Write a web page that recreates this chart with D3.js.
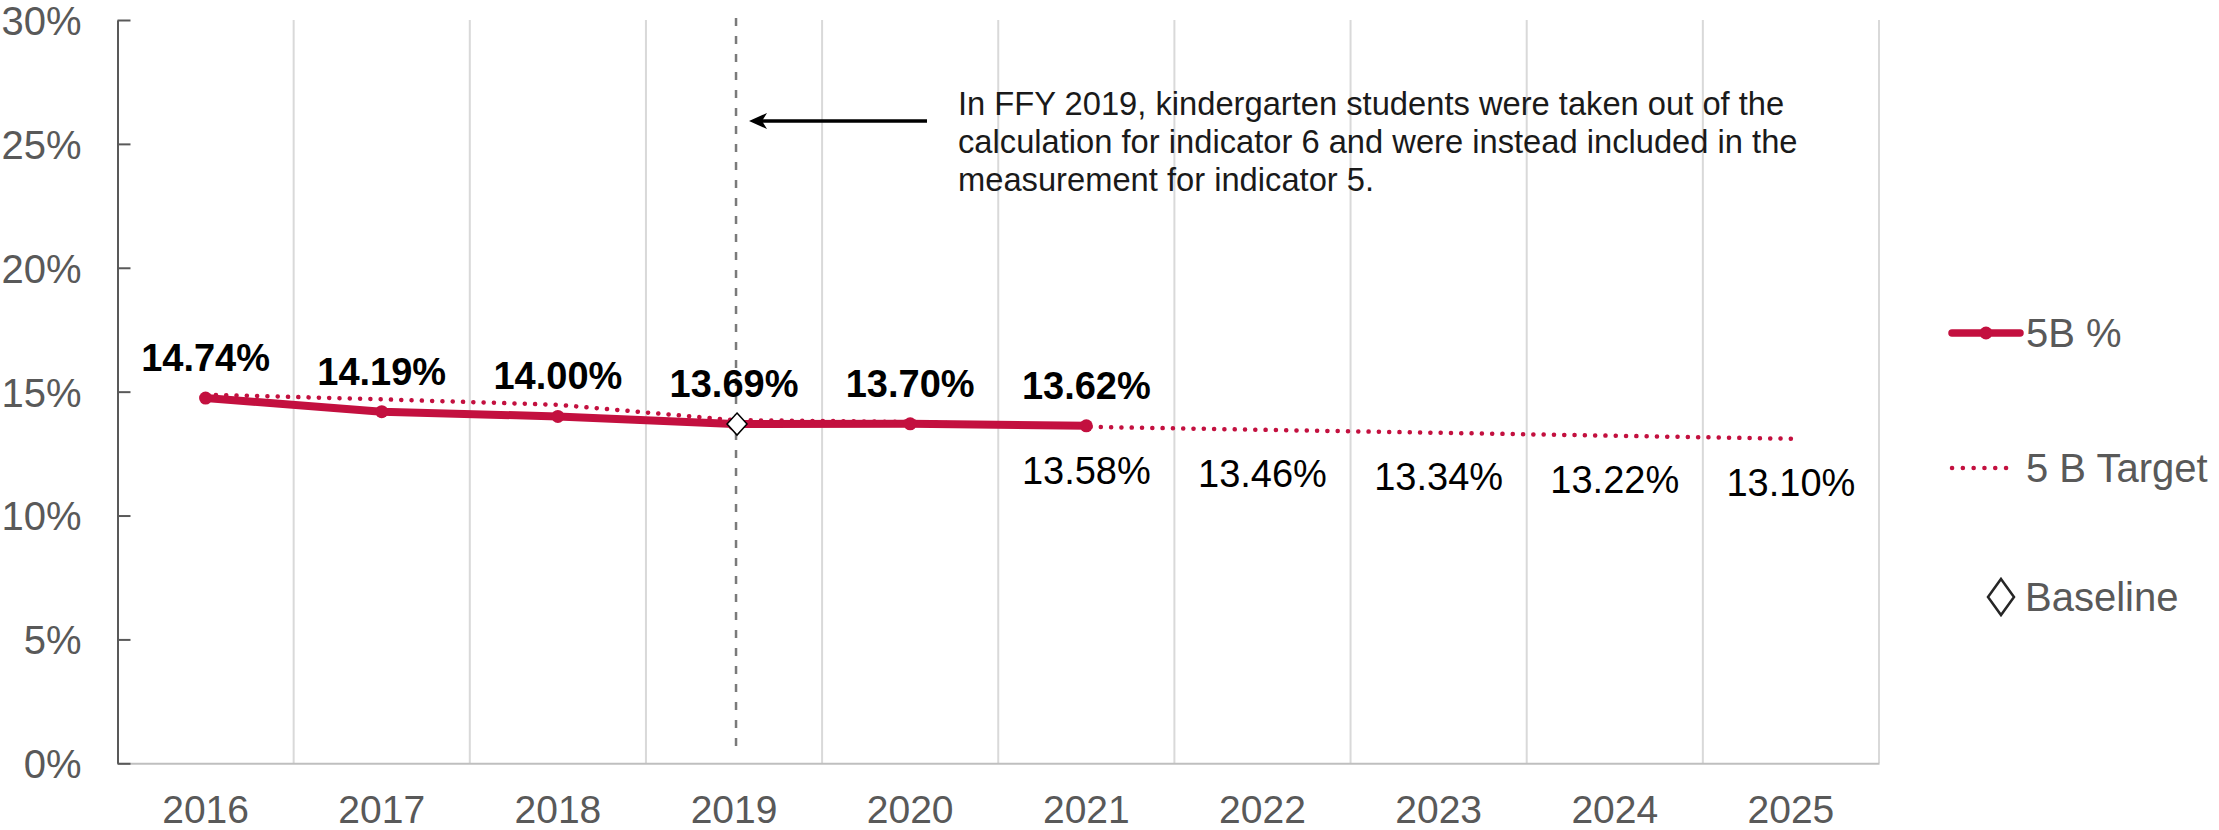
<!DOCTYPE html>
<html>
<head>
<meta charset="utf-8">
<script src="https://cdn.jsdelivr.net/npm/d3@7/dist/d3.min.js"></script>
<style>
  body { margin: 0; background: #fff; }
  svg { display: block; font-family: "Liberation Sans", Arial, sans-serif; }
</style>
</head>
<body>
<div id="chart"></div>
<script>
// years on the x axis
var years = ["2016", "2017", "2018", "2019", "2020", "2021", "2022", "2023", "2024", "2025"]
// 5B % (actual), 2016-2021
var actualYears = ["2016", "2017", "2018", "2019", "2020", "2021"]
var actualValues = [14.74, 14.19, 14.00, 13.69, 13.70, 13.62]
// 5 B Target
var targetValues = [14.88, 14.69, 14.47, 13.85, 13.78, 13.58, 13.46, 13.34, 13.22, 13.10]
// only these targets carry a label
var targetLabelYears = ["2021", "2022", "2023", "2024", "2025"]
// baseline marker
var baselineYear = "2019"
var baselineValue = 13.69
var yTicks = [0, 5, 10, 15, 20, 25, 30]
var legendNames = ["5B %", "5 B Target", "Baseline"]
var noteLines = [
  "In FFY 2019, kindergarten students were taken out of the",
  "calculation for indicator 6 and were instead included in the",
  "measurement for indicator 5."
]

var red = "#C3103F"
var W = 2219, H = 830

var x = d3.scaleBand()
    .domain(years)
    .range([117.5, 1879])
var y = d3.scaleLinear()
    .domain([0, 30])
    .range([763.3, 20])
var bw = x.bandwidth()
function cx(yr) { return x(yr) + bw / 2 }

var svg = d3.select("#chart").append("svg")
    .attr("width", W).attr("height", H)

// vertical gridlines at band edges
var gridX = years.slice(1).map(function (d) { return x(d) }).concat([x.range()[1]])
svg.append("g").selectAll("line")
    .data(gridX).enter()
    .append("line")
    .attr("x1", function (d) { return d }).attr("x2", function (d) { return d })
    .attr("y1", y(30)).attr("y2", y(0))
    .attr("stroke", "#d9d9d9").attr("stroke-width", 2)

// x axis
var xAxis = svg.append("g")
    .attr("transform", "translate(0," + y(0) + ")")
    .call(d3.axisBottom(x).tickSize(0).tickSizeOuter(0).tickPadding(32))
xAxis.select(".domain").attr("stroke", "#bfbfbf").attr("stroke-width", 2)
xAxis.selectAll("text")
    .attr("fill", "#595959").style("font-size", "39px").style("font-family", "Liberation Sans, Arial, sans-serif")

// y axis, ticks point inward
var yAxis = svg.append("g")
    .attr("transform", "translate(" + x.range()[0] + ",0)")
    .call(d3.axisLeft(y).tickValues(yTicks).tickSize(-13).tickSizeOuter(0).tickPadding(36)
      .tickFormat(function (d) { return d + "%" }))
yAxis.select(".domain").attr("stroke", "#595959").attr("stroke-width", 2)
yAxis.selectAll(".tick line").attr("stroke", "#595959").attr("stroke-width", 2)
yAxis.selectAll("text")
    .attr("fill", "#595959").style("font-size", "40px").style("font-family", "Liberation Sans, Arial, sans-serif")
    .attr("dy", "0.36em")

// dashed marker for FFY 2019
var markX = cx(baselineYear) + 2
svg.append("line")
    .attr("x1", markX).attr("x2", markX)
    .attr("y1", y(30) - 2).attr("y2", y(0) - 10)
    .attr("stroke", "#7a7a7a").attr("stroke-width", 2.5)
    .attr("stroke-dasharray", "8 10")

// arrow + note
var arrowY = 121
var tipX = markX + 13
svg.append("line")
    .attr("x1", 927).attr("x2", tipX + 10)
    .attr("y1", arrowY).attr("y2", arrowY)
    .attr("stroke", "#000").attr("stroke-width", 3.5)
svg.append("path")
    .attr("d", "M" + tipX + "," + arrowY + " L" + (tipX + 18) + "," + (arrowY - 8) +
      " L" + (tipX + 13) + "," + arrowY + " L" + (tipX + 18) + "," + (arrowY + 8) + " Z")
    .attr("fill", "#000")
svg.append("g").selectAll("text")
    .data(noteLines).enter()
    .append("text")
    .attr("x", 958)
    .attr("y", function (d, i) { return 114.5 + i * 38 })
    .attr("fill", "#1a1a1a")
    .style("font-size", "32.7px")
    .text(function (d) { return d })

// data rows
var actualData = actualYears.map(function (yr, i) { return {year: yr, value: actualValues[i]} })
var targetData = years.map(function (yr, i) { return {year: yr, value: targetValues[i]} })

var line = d3.line()
    .x(function (d) { return cx(d.year) })
    .y(function (d) { return y(d.value) })

// actual line
svg.append("path")
    .datum(actualData)
    .attr("d", line)
    .attr("fill", "none").attr("stroke", red).attr("stroke-width", 8)
    .attr("stroke-linejoin", "round")
svg.append("g").selectAll("circle")
    .data(actualData).enter()
    .append("circle")
    .attr("cx", function (d) { return cx(d.year) })
    .attr("cy", function (d) { return y(d.value) })
    .attr("r", 6.5)
    .attr("fill", red)

// target dotted line
svg.append("path")
    .datum(targetData)
    .attr("d", line)
    .attr("fill", "none").attr("stroke", red).attr("stroke-width", 4.5)
    .attr("stroke-linecap", "round")
    .attr("stroke-dasharray", "0.1 10.2")

// baseline diamond
svg.append("path")
    .attr("d", "M0,-11 L10,0 L0,11 L-10,0 Z")
    .attr("transform", "translate(" + (cx(baselineYear) + 3) + "," + y(baselineValue) + ")")
    .attr("fill", "#fff").attr("stroke", "#000").attr("stroke-width", 1.5)

// labels above actual points
svg.append("g").selectAll("text")
    .data(actualData).enter()
    .append("text")
    .attr("x", function (d) { return cx(d.year) })
    .attr("y", function (d) { return y(d.value) - 27 })
    .attr("text-anchor", "middle")
    .attr("fill", "#000")
    .style("font-size", "38px").style("font-weight", "bold")
    .text(function (d) { return d.value.toFixed(2) + "%" })

// labels under targets
svg.append("g").selectAll("text")
    .data(targetData.filter(function (d) { return targetLabelYears.indexOf(d.year) >= 0 })).enter()
    .append("text")
    .attr("x", function (d) { return cx(d.year) })
    .attr("y", function (d) { return y(d.value) + 57 })
    .attr("text-anchor", "middle")
    .attr("fill", "#000")
    .style("font-size", "38px")
    .text(function (d) { return d.value.toFixed(2) + "%" })

// legend
var legend = svg.append("g")
var legY = [333, 468, 597]
var lg = legend.selectAll("g")
    .data(legendNames).enter()
    .append("g")
    .attr("transform", function (d, i) { return "translate(0," + legY[i] + ")" })

lg.filter(function (d, i) { return i == 0 }).each(function () {
  var g = d3.select(this)
  g.append("line").attr("x1", 1952).attr("x2", 2020).attr("y1", 0).attr("y2", 0)
      .attr("stroke", red).attr("stroke-width", 7.5).attr("stroke-linecap", "round")
  g.append("circle").attr("cx", 1986).attr("cy", 0).attr("r", 6.5).attr("fill", red)
})
lg.filter(function (d, i) { return i == 1 }).append("line")
    .attr("x1", 1952).attr("x2", 2016).attr("y1", 0).attr("y2", 0)
    .attr("stroke", red).attr("stroke-width", 4.5)
    .attr("stroke-linecap", "round").attr("stroke-dasharray", "0.1 10.7")
lg.filter(function (d, i) { return i == 2 }).append("path")
    .attr("d", "M2001,-18 L2014,0 L2001,18 L1988,0 Z")
    .attr("fill", "#fff").attr("stroke", "#262626").attr("stroke-width", 2.5)

lg.append("text")
    .attr("x", function (d, i) { return i == 2 ? 2025 : 2026 })
    .attr("y", function (d, i) { return i == 2 ? 14 : 13.5 })
    .attr("fill", "#595959")
    .style("font-size", function (d, i) { return i == 2 ? "40px" : "40px" })
    .text(function (d) { return d })
</script>
</body>
</html>
